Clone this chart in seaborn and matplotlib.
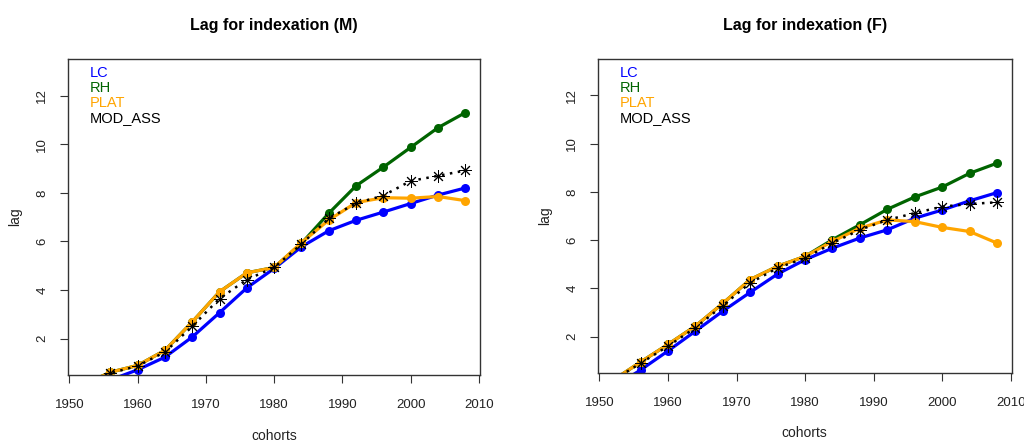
import numpy as np
import pandas as pd
import matplotlib
matplotlib.use("Agg")
import matplotlib.pyplot as plt
import seaborn as sns

sns.set_theme(style="white")
plt.rcParams['font.family'] = ['Liberation Sans', 'DejaVu Sans']

cohorts = [1952, 1956, 1960, 1964, 1968, 1972, 1976, 1980, 1984, 1988, 1992, 1996, 2000, 2004, 2008]
series_names = ["LC", "RH", "PLAT", "MOD_ASS"]
series_colors = ["#0000FF", "#006400", "#FFA500", "black"]

# males
lc_m = [-0.1, 0.30, 0.72, 1.24, 2.07, 3.07, 4.09, 4.89, 5.78, 6.44, 6.87, 7.21, 7.56, 7.91, 8.20]
rh_m = [0.10, 0.62, 0.90, 1.52, 2.69, 3.93, 4.71, 4.93, 5.92, 7.16, 8.29, 9.06, 9.87, 10.68, 11.30]
plat_m = [0.10, 0.62, 0.90, 1.52, 2.69, 3.93, 4.71, 4.93, 5.95, 6.88, 7.60, 7.80, 7.78, 7.85, 7.68]
mod_m = [0.10, 0.58, 0.88, 1.45, 2.51, 3.65, 4.43, 4.93, 5.89, 6.95, 7.57, 7.89, 8.49, 8.70, 8.92]

# females
lc_f = [-0.1, 0.62, 1.41, 2.23, 3.06, 3.84, 4.60, 5.19, 5.67, 6.09, 6.43, 6.91, 7.25, 7.63, 7.97]
rh_f = [0.20, 0.95, 1.68, 2.44, 3.38, 4.37, 4.92, 5.33, 6.02, 6.64, 7.28, 7.79, 8.20, 8.77, 9.19]
plat_f = [0.20, 0.95, 1.68, 2.44, 3.38, 4.37, 4.92, 5.33, 5.95, 6.50, 6.84, 6.77, 6.53, 6.36, 5.88]
mod_f = [0.20, 0.90, 1.61, 2.37, 3.29, 4.23, 4.85, 5.26, 5.88, 6.43, 6.84, 7.12, 7.39, 7.50, 7.57]

panels = [
    ("Lag for indexation (M)", [lc_m, rh_m, plat_m, mod_m]),
    ("Lag for indexation (F)", [lc_f, rh_f, plat_f, mod_f]),
]

fig = plt.figure(figsize=(10.24, 4.45), dpi=100)
ax_pos = [[0.0661, 0.157, 0.4026, 0.710], [0.5837, 0.162, 0.4043, 0.705]]

for (title, values), pos in zip(panels, ax_pos):
    ax = fig.add_axes(pos)
    df = pd.DataFrame({"cohort": cohorts})
    for name, col, vals in zip(series_names, series_colors, values):
        df[name] = vals
        if name == "MOD_ASS":
            sns.lineplot(data=df, x="cohort", y=name, ax=ax, color=col, lw=1.8,
                         linestyle=(0, (1, 2.2)), marker=(8, 2, 0), markersize=9,
                         markeredgewidth=0.7, markeredgecolor=col)
        else:
            sns.lineplot(data=df, x="cohort", y=name, ax=ax, color=col, lw=2.3,
                         marker="o", markersize=6.5, markeredgewidth=0)

    ax.set_xlim(1949.75, 2010.15)
    ax.set_ylim(0.5, 13.5)
    ax.set_xticks(np.arange(1950, 2011, 10))
    ax.set_yticks(np.arange(2, 13, 2))
    ax.tick_params(axis="both", direction="out", length=6, width=0.8, color="#333333",
                   labelsize=9.5, colors="#222222", left=True, bottom=True)
    ax.tick_params(axis="x", pad=11)
    ax.tick_params(axis="y", pad=8, labelrotation=90)
    for lab in ax.get_yticklabels():
        lab.set_va("center")
    for sp in ax.spines.values():
        sp.set_color("#333333")
        sp.set_linewidth(1.0)

    ax.set_title(title, fontsize=11.5, fontweight="bold", pad=21, color="black")
    ax.set_xlabel("cohorts", fontsize=10, color="#222222", va="center")
    ax.set_ylabel("lag", fontsize=10, color="#222222", va="center")
    ax.xaxis.set_label_coords(0.5, -0.193)
    ax.yaxis.set_label_coords(-0.128, 0.5)

    for i, (name, col) in enumerate(zip(series_names, series_colors)):
        ax.text(0.054, 0.955 - i * 0.047, name, color=col, fontsize=10.5,
                transform=ax.transAxes, va="center", ha="left")

fig.savefig("out.png", dpi=100, facecolor="white")
